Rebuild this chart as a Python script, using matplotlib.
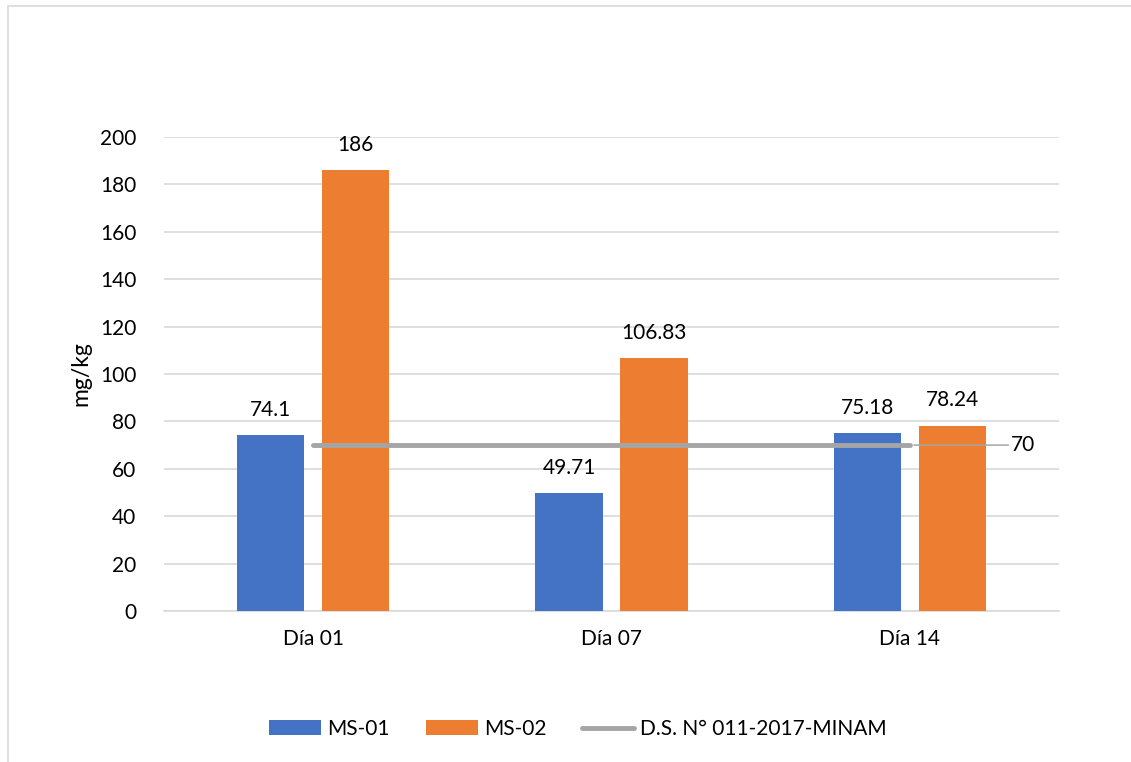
import matplotlib
matplotlib.use("Agg")
import matplotlib.pyplot as plt
from matplotlib.patches import Rectangle
import numpy as np

categories = ["Día 01", "Día 07", "Día 14"]
ms01 = [74.1, 49.71, 75.18]
ms02 = [186, 106.83, 78.24]
ms01_labels = ["74.1", "49.71", "75.18"]
ms02_labels = ["186", "106.83", "78.24"]
limit_value = 70
limit_name = "D.S. N° 011-2017-MINAM"
yticks = [0, 20, 40, 60, 80, 100, 120, 140, 160, 180, 200]

plt.rcParams["font.family"] = ["Lato", "DejaVu Sans"]
FS = 15

fig = plt.figure(figsize=(11.31, 7.62), dpi=100)
ax = fig.add_axes([164 / 1131, 1 - 611 / 762, 895 / 1131, 474 / 762])

# light frame around the chart area
fig.patches.append(Rectangle((8 / 1131, -0.01), 1.2, 1 - 6 / 762 + 0.01,
                             transform=fig.transFigure, fill=False,
                             edgecolor="#D9D9D9", linewidth=1.2))

x = np.arange(len(categories))
w = 0.225
off = 0.1425
blue = "#4472C4"
orange = "#ED7D31"
gray = "#A5A5A5"

b1 = ax.bar(x - off, ms01, w, color=blue, label="MS-01", zorder=3)
b2 = ax.bar(x + off, ms02, w, color=orange, label="MS-02", zorder=3)

for xi, v, t in zip(x - off, ms01, ms01_labels):
    ax.annotate(t, (xi, v), xytext=(0, 11), textcoords="offset points",
                ha="center", va="bottom", fontsize=FS, color="#000000")
for xi, v, t in zip(x + off, ms02, ms02_labels):
    ax.annotate(t, (xi, v), xytext=(0, 11), textcoords="offset points",
                ha="center", va="bottom", fontsize=FS, color="#000000")

lim = [limit_value] * len(categories)
line, = ax.plot(x, lim, color=gray, linewidth=3.5, solid_capstyle="round",
                label=limit_name, zorder=4)
# leader line to the limit label
ax.annotate(str(limit_value), xy=(x[-1], limit_value), xytext=(x[-1] + 0.34, limit_value),
            va="center", ha="left", fontsize=FS, color="#000000",
            arrowprops=dict(arrowstyle="-", color=gray, lw=1.1, shrinkA=0, shrinkB=3),
            zorder=4)

ax.set_xlim(-0.5, 2.5)
ax.set_ylim(0, 200)
ax.set_yticks(yticks)
ax.set_xticks(x)
ax.set_xticklabels(categories)
ax.tick_params(axis="both", length=0, labelsize=FS, colors="#000000")
ax.tick_params(axis="y", pad=20)
ax.tick_params(axis="x", pad=13)
ax.grid(axis="y", color="#D9D9D9", linewidth=1.2, zorder=0)
for s in ["top", "right", "left"]:
    ax.spines[s].set_visible(False)
ax.spines["bottom"].set_color("#D9D9D9")
ax.spines["bottom"].set_linewidth(1.2)

ax.set_ylabel("mg/kg", fontsize=16.5, labelpad=6)

fig.legend(handles=[b1, b2, line], loc="center",
           bbox_to_anchor=(578 / 1131, 1 - 729 / 762), ncol=3,
           frameon=False, fontsize=FS, handlelength=2.5, handleheight=0.75,
           columnspacing=1.7, handletextpad=0.3)

fig.savefig("out.png", dpi=100)
